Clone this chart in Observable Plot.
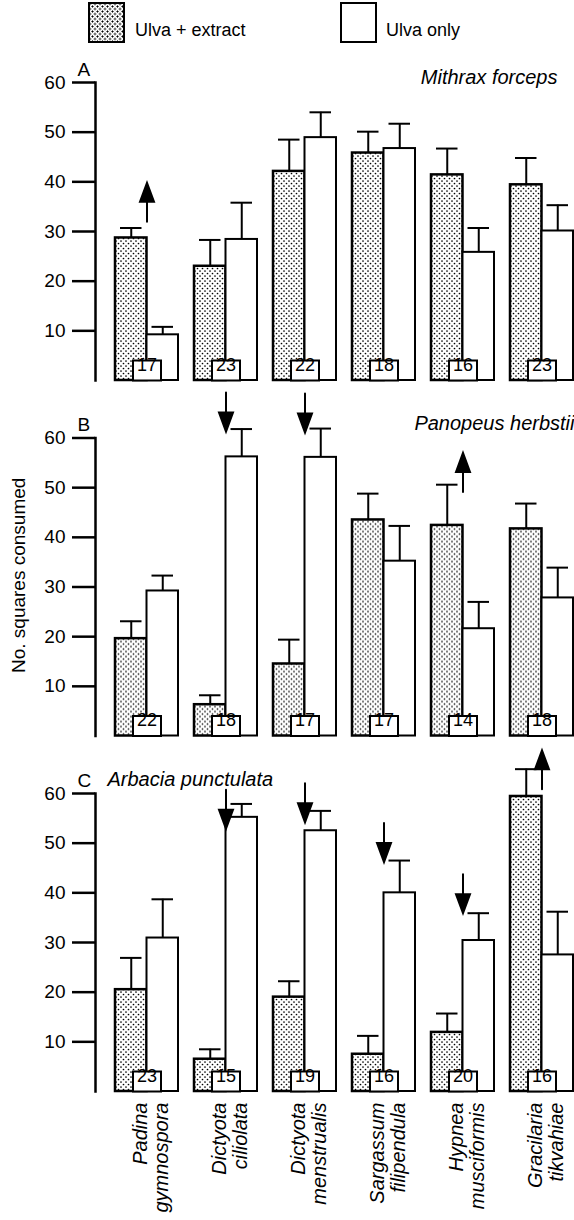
<!DOCTYPE html>
<html><head><meta charset="utf-8">
<script src="https://cdn.jsdelivr.net/npm/d3@7"></script>
<script src="https://cdn.jsdelivr.net/npm/@observablehq/plot@0.6"></script>
<style>
html,body{margin:0;padding:0;background:#fff;overflow:hidden}
#wrap{position:relative;width:574px;height:1220px}
#legend{position:absolute;left:0;top:0;width:574px;height:48px;font-family:"Liberation Sans",Arial,Helvetica,sans-serif;font-size:18px;color:#000}
.sw{position:absolute;top:2px;width:37px;height:41px;box-sizing:border-box;border:2px solid #000;background:#fff}
.sw.dots{background-color:#fff;background-image:radial-gradient(circle,#000 0.85px,transparent 1.2px),radial-gradient(circle,#000 0.85px,transparent 1.2px);background-size:5px 5px;background-position:0 0,2.5px 2.5px}
.lt{position:absolute;top:21px;line-height:1;white-space:nowrap}
</style></head><body>
<div id="wrap">
  <div id="chart"></div>
  <div id="legend"></div>
</div>
<script>
// ---- data ----
const species = ["Padina gymnospora", "Dictyota ciliolata", "Dictyota menstrualis", "Sargassum filipendula", "Hypnea musciformis", "Gracilaria tikvahiae"];
const panels = ["A", "B", "C"];
const predators = ["Mithrax forceps", "Panopeus herbstii", "Arbacia punctulata"];
const treatments = ["Ulva + extract", "Ulva only"];
const yTicks = [10, 20, 30, 40, 50, 60];
const yLabel = "No. squares consumed";

// Panel A: Mithrax forceps
const extractMeanA = [28.7, 23.0, 42.1, 45.8, 41.4, 39.4];
const extractSEA   = [2.0, 5.3, 6.4, 4.3, 5.3, 5.4];
const ulvaMeanA    = [9.2, 28.4, 48.9, 46.7, 25.8, 30.1];
const ulvaSEA      = [1.6, 7.4, 5.1, 5.0, 4.9, 5.2];
const nA           = [17, 23, 22, 18, 16, 23];
// Panel B: Panopeus herbstii
const extractMeanB = [19.6, 6.3, 14.5, 43.5, 42.4, 41.7];
const extractSEB   = [3.5, 1.9, 4.9, 5.3, 8.2, 5.1];
const ulvaMeanB    = [29.2, 56.2, 56.1, 35.2, 21.6, 27.8];
const ulvaSEB      = [3.1, 5.6, 5.8, 7.1, 5.4, 6.1];
const nB           = [22, 18, 17, 17, 14, 18];
// Panel C: Arbacia punctulata
const extractMeanC = [20.5, 6.5, 19.0, 7.5, 11.9, 59.4];
const extractSEC   = [6.4, 2.0, 3.2, 3.7, 3.8, 5.5];
const ulvaMeanC    = [30.9, 55.2, 52.5, 40.0, 30.4, 27.5];
const ulvaSEC      = [7.8, 2.7, 4.0, 6.5, 5.5, 8.7];
const nC           = [23, 15, 19, 16, 20, 16];

// significance arrows
const arrowPanel   = ["A", "B", "B", "B", "C", "C", "C", "C", "C"];
const arrowSpecies = ["Padina gymnospora", "Dictyota ciliolata", "Dictyota menstrualis", "Hypnea musciformis", "Dictyota ciliolata", "Dictyota menstrualis", "Sargassum filipendula", "Hypnea musciformis", "Gracilaria tikvahiae"];
const arrowDir     = ["up", "down", "down", "up", "down", "down", "down", "down", "up"];
const arrowTip     = [39.8, 61.3, 61.1, 57.0, 52.9, 54.2, 46.2, 35.9, 68.7];

// ---- build tables ----
const series = {
  A: {em: extractMeanA, es: extractSEA, um: ulvaMeanA, us: ulvaSEA, n: nA},
  B: {em: extractMeanB, es: extractSEB, um: ulvaMeanB, us: ulvaSEB, n: nB},
  C: {em: extractMeanC, es: extractSEC, um: ulvaMeanC, us: ulvaSEC, n: nC}
};
const extractRows = [], ulvaRows = [], nRows = [];
for (const p of panels) {
  const s = series[p];
  species.forEach((sp, i) => {
    extractRows.push({panel: p, species: sp, treatment: treatments[0], mean: s.em[i], hi: s.em[i] + s.es[i]});
    ulvaRows.push({panel: p, species: sp, treatment: treatments[1], mean: s.um[i], hi: s.um[i] + s.us[i]});
    nRows.push({panel: p, species: sp, n: String(s.n[i])});
  });
}
const allRows = extractRows.concat(ulvaRows);
const arrows = arrowPanel.map((p, i) => ({panel: p, species: arrowSpecies[i], dir: arrowDir[i], tip: arrowTip[i]}));
const titleRows = panels.map((p, i) => ({panel: p, name: predators[i]}));

// ---- shapes ----
const arrowShape = {
  draw(ctx, l) {
    const h = 19, w = 7;
    ctx.moveTo(0, 0);
    ctx.lineTo(0, -l + h);
    ctx.moveTo(0, -l);
    ctx.lineTo(-w, -l + h);
    ctx.lineTo(w, -l + h);
    ctx.closePath();
  }
};
const boxSymbol = {draw(ctx) { ctx.rect(-14, -10, 28, 20); }};

const FONT = '"Liberation Sans", Arial, Helvetica, sans-serif';

const chart = Plot.plot({
  width: 574,
  height: 1220,
  marginTop: 82,
  marginBottom: 129,
  marginLeft: 115,
  marginRight: 1,
  style: {fontFamily: FONT, fontSize: "18px", color: "black", background: "white", overflow: "hidden"},
  fx: {domain: species, paddingInner: 16 / 79, paddingOuter: 0, round: false, axis: null},
  fy: {domain: panels, paddingInner: 57.5 / 355.5, paddingOuter: 0, round: false, axis: null},
  x: {domain: treatments, padding: 0, round: false, axis: null},
  y: {domain: [0, 60]},
  marks: [
    Plot.frame({anchor: "left", facetAnchor: "left", dx: -20, strokeWidth: 2.5}),
    Plot.axisY({ticks: yTicks, tickSize: 23, tickPadding: 7, dx: -20, strokeWidth: 2.5, fontSize: 19, label: null}),
    Plot.barY(extractRows, {fx: "species", fy: "panel", x: "treatment", y: "mean", fill: "url(#dots)", stroke: "black", strokeWidth: 2.5}),
    Plot.barY(ulvaRows, {fx: "species", fy: "panel", x: "treatment", y: "mean", fill: "white", stroke: "black", strokeWidth: 2}),
    Plot.ruleX(allRows, {fx: "species", fy: "panel", x: "treatment", y1: "mean", y2: "hi", strokeWidth: 2}),
    Plot.tickY(allRows, {fx: "species", fy: "panel", x: "treatment", y: "hi", insetLeft: 5, insetRight: 5, strokeWidth: 2}),
    Plot.dot(nRows, {fx: "species", fy: "panel", frameAnchor: "bottom", dy: -10, r: 5, symbol: boxSymbol, fill: "white", stroke: "black", strokeWidth: 2}),
    Plot.text(nRows, {fx: "species", fy: "panel", frameAnchor: "bottom", dy: -10, text: "n", fontSize: 18}),
    Plot.vector(arrows, {fx: "species", fy: "panel", y: "tip", anchor: "end", length: 39, rotate: d => d.dir === "up" ? 0 : 180, shape: arrowShape, fill: "black", stroke: "black", strokeWidth: 2, strokeLinejoin: "miter"}),
    // panel letters
    Plot.text(panels, {fx: () => species[0], fy: d => d, text: d => d, frameAnchor: "top-left", textAnchor: "start", lineAnchor: "bottom", dx: -38, dy: -7, fontSize: 19}),
    // predator names
    Plot.text(titleRows.filter(d => d.panel === "A"), {fx: () => species[5], fy: "panel", text: "name", frameAnchor: "top-right", textAnchor: "end", lineAnchor: "bottom", dx: -16, dy: 1, fontSize: 20, fontStyle: "italic"}),
    Plot.text(titleRows.filter(d => d.panel === "B"), {fx: () => species[5], fy: "panel", text: "name", frameAnchor: "top-right", textAnchor: "end", lineAnchor: "bottom", dx: 1, dy: -8, fontSize: 20, fontStyle: "italic"}),
    Plot.text(titleRows.filter(d => d.panel === "C"), {fx: () => species[0], fy: "panel", text: "name", frameAnchor: "top-left", textAnchor: "start", lineAnchor: "bottom", dx: -8, dy: -8, fontSize: 20, fontStyle: "italic"}),
    // y label (left of the axis, reading upward from beside the middle panel's lower ticks)
    Plot.text([yLabel], {fx: () => species[0], fy: () => "B", frameAnchor: "middle", textAnchor: "start", lineAnchor: "middle", rotate: -90, dx: -128, dy: 86, fontSize: 19}),
    // species labels
    Plot.text(species, {fx: d => d, fy: () => "C", text: d => d.replace(" ", "\n"), frameAnchor: "bottom", rotate: -90, textAnchor: "end", lineAnchor: "middle", dx: 4, dy: 11, fontSize: 20, fontStyle: "italic", lineHeight: 1.05})
  ]
});

// dotted pattern
const ns = "http://www.w3.org/2000/svg";
const defs = document.createElementNS(ns, "defs");
const pat = document.createElementNS(ns, "pattern");
pat.setAttribute("id", "dots");
pat.setAttribute("width", "5");
pat.setAttribute("height", "5");
pat.setAttribute("patternUnits", "userSpaceOnUse");
const bg = document.createElementNS(ns, "rect");
bg.setAttribute("width", "5"); bg.setAttribute("height", "5"); bg.setAttribute("fill", "white");
pat.appendChild(bg);
for (const [cx, cy] of [[1, 1], [3.5, 3.5]]) {
  const c = document.createElementNS(ns, "circle");
  c.setAttribute("cx", cx); c.setAttribute("cy", cy); c.setAttribute("r", "0.85"); c.setAttribute("fill", "black");
  pat.appendChild(c);
}
defs.appendChild(pat);
chart.insertBefore(defs, chart.firstChild);
document.getElementById("chart").appendChild(chart);

// legend
const legend = document.getElementById("legend");
legend.innerHTML =
  '<div class="sw dots" style="left:88px"></div><div class="lt" style="left:135px">' + treatments[0] + '</div>' +
  '<div class="sw" style="left:340px"></div><div class="lt" style="left:386px">' + treatments[1] + '</div>';
</script>
</body></html>
